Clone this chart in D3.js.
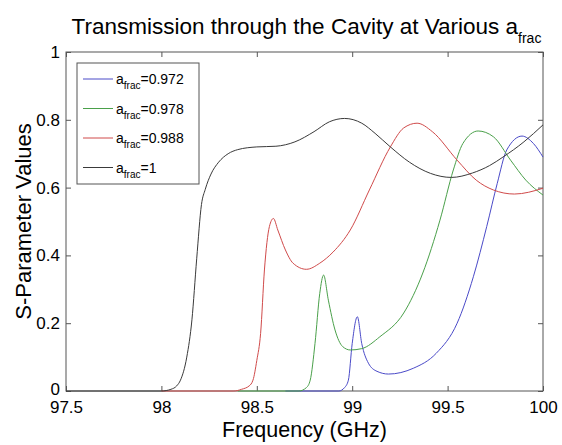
<!DOCTYPE html>
<html>
<head>
<meta charset="utf-8">
<script src="https://cdn.jsdelivr.net/npm/d3@7"></script>
<style>
  body { margin: 0; background: #fff; }
  text { font-family: "Liberation Sans", Arial, sans-serif; fill: #000; }
</style>
</head>
<body>
<div id="chart"></div>
<script>
// series values (frequency in GHz, S-parameter)
const freq972 = [98.65, 98.93, 98.96, 98.98, 99.0, 99.027, 99.05, 99.085, 99.13, 99.19, 99.32, 99.44, 99.55, 99.635, 99.705, 99.76, 99.81, 99.89, 99.95, 100];
const s972 =    [0, 0, 0.01, 0.032, 0.14, 0.219, 0.14, 0.082, 0.058, 0.05, 0.067, 0.111, 0.2, 0.337, 0.485, 0.612, 0.711, 0.752, 0.73, 0.69];

const freq978 = [98.4, 98.72, 98.76, 98.78, 98.805, 98.83, 98.85, 98.875, 98.91, 98.95, 98.99, 99.05, 99.145, 99.27, 99.37, 99.46, 99.53, 99.58, 99.66, 99.74, 99.83, 99.91, 100];
const s978 =    [0, 0, 0.01, 0.032, 0.14, 0.288, 0.342, 0.268, 0.18, 0.131, 0.121, 0.125, 0.16, 0.23, 0.348, 0.504, 0.652, 0.73, 0.767, 0.75, 0.681, 0.622, 0.578];

const freq988 = [98.0, 98.38, 98.42, 98.46, 98.48, 98.5, 98.52, 98.54, 98.566, 98.587, 98.61, 98.65, 98.69, 98.76, 98.83, 98.9, 98.99, 99.09, 99.2, 99.27, 99.34, 99.42, 99.55, 99.65, 99.74, 99.85, 100];
const s988 =    [0, 0, 0.005, 0.015, 0.032, 0.09, 0.17, 0.357, 0.485, 0.509, 0.475, 0.416, 0.377, 0.359, 0.377, 0.41, 0.475, 0.593, 0.72, 0.776, 0.79, 0.765, 0.681, 0.622, 0.593, 0.581, 0.598];

const freq1 = [97.5, 98.0, 98.05, 98.08, 98.1, 98.133, 98.16, 98.185, 98.21, 98.23, 98.26, 98.3, 98.35, 98.4, 98.5, 98.6, 98.7, 98.8, 98.88, 98.96, 99.05, 99.12, 99.2, 99.3, 99.41, 99.52, 99.63, 99.72, 99.79, 99.9, 100];
const s1 =    [0, 0, 0.005, 0.015, 0.032, 0.1, 0.21, 0.39, 0.55, 0.595, 0.64, 0.675, 0.7, 0.712, 0.72, 0.722, 0.735, 0.765, 0.794, 0.804, 0.79, 0.76, 0.72, 0.675, 0.642, 0.63, 0.643, 0.665, 0.69, 0.735, 0.785];

const seriesNames = ["0.972", "0.978", "0.988", "1"];
const seriesColors = ["#4a4ac8", "#4aa04a", "#d04a4a", "#3a3a3a"];
const xTicks = [97.5, 98, 98.5, 99, 99.5, 100];
const yTicks = [0, 0.2, 0.4, 0.6, 0.8, 1];

const series = [
  { name: seriesNames[0], color: seriesColors[0], pts: freq972.map((f, i) => [f, s972[i]]) },
  { name: seriesNames[1], color: seriesColors[1], pts: freq978.map((f, i) => [f, s978[i]]) },
  { name: seriesNames[2], color: seriesColors[2], pts: freq988.map((f, i) => [f, s988[i]]) },
  { name: seriesNames[3], color: seriesColors[3], pts: freq1.map((f, i) => [f, s1[i]]) }
];

const W = 562, H = 445;
const margin = { top: 52, right: 19, bottom: 54, left: 66 },
    width = W - margin.left - margin.right,
    height = H - margin.top - margin.bottom;

const svg = d3.select("#chart").append("svg")
    .attr("width", W)
    .attr("height", H);

svg.append("rect").attr("width", W).attr("height", H).attr("fill", "#fff");

const g = svg.append("g").attr("transform", `translate(${margin.left},${margin.top})`);

const x = d3.scaleLinear().domain([97.5, 100]).range([0, width]);
const y = d3.scaleLinear().domain([0, 1]).range([height, 0]);

const axisColor = "#555";
const tickLen = 5;

// box + inward ticks (matlab style)
g.append("rect")
    .attr("width", width).attr("height", height)
    .attr("fill", "none").attr("stroke", axisColor).attr("stroke-width", 1);

const axBottom = g.append("g").attr("transform", `translate(0,${height})`)
    .call(d3.axisBottom(x).tickValues(xTicks).tickSizeInner(-tickLen).tickSizeOuter(0).tickPadding(10).tickFormat(d3.format("")));
const axTop = g.append("g")
    .call(d3.axisTop(x).tickValues(xTicks).tickSizeInner(-tickLen).tickSizeOuter(0).tickFormat(""));
const axLeft = g.append("g")
    .call(d3.axisLeft(y).tickValues(yTicks).tickSizeInner(-tickLen).tickSizeOuter(0).tickPadding(6).tickFormat(d3.format("")));
const axRight = g.append("g").attr("transform", `translate(${width},0)`)
    .call(d3.axisRight(y).tickValues(yTicks).tickSizeInner(-tickLen).tickSizeOuter(0).tickFormat(""));

[axBottom, axTop, axLeft, axRight].forEach(a => {
  a.select(".domain").remove();
  a.selectAll("line").attr("stroke", axisColor);
  a.selectAll("text").style("font-size", "17px").style("font-family", "Liberation Sans, Arial, sans-serif").attr("fill", "#000");
});
// lift the "0" a little so it clears the 97.5 label below it
axLeft.selectAll(".tick text").filter(d => d === 0).attr("dy", "0.2em");

// lines (blue drawn first, black last)
const line = d3.line().x(d => x(d[0])).y(d => y(d[1])).curve(d3.curveMonotoneX);

g.selectAll(".series")
    .data(series)
    .enter().append("path")
    .attr("class", "series")
    .attr("d", d => line(d.pts))
    .attr("fill", "none")
    .attr("stroke", d => d.color)
    .attr("stroke-width", 1);

// title
const title = svg.append("text")
    .attr("x", margin.left + width / 2 + 2)
    .attr("y", 34)
    .attr("text-anchor", "middle")
    .style("font-size", "22.5px");
title.append("tspan").text("Transmission through the Cavity at Various a");
title.append("tspan").attr("dy", 9).style("font-size", "14px").text("frac");

// axis labels
svg.append("text")
    .attr("x", margin.left + width / 2)
    .attr("y", 437)
    .attr("text-anchor", "middle")
    .style("font-size", "21.5px")
    .text("Frequency (GHz)");

svg.append("text")
    .attr("transform", `translate(31,${margin.top + height / 2}) rotate(-90)`)
    .attr("text-anchor", "middle")
    .style("font-size", "22px")
    .text("S-Parameter Values");

// legend
const legend = svg.append("g").attr("transform", "translate(77,63)");
legend.append("rect")
    .attr("width", 122).attr("height", 121)
    .attr("fill", "#fff").attr("stroke", axisColor).attr("stroke-width", 1);

const items = legend.selectAll(".item")
    .data(series)
    .enter().append("g")
    .attr("class", "item")
    .attr("transform", (d, i) => `translate(0,${16 + i * 29.5})`);

items.append("line")
    .attr("x1", 6).attr("x2", 36)
    .attr("stroke", d => d.color).attr("stroke-width", 1);

const lt = items.append("text")
    .attr("x", 39)
    .attr("y", 5)
    .style("font-size", "14px");
lt.append("tspan").text("a");
lt.append("tspan").attr("dy", 5).style("font-size", "10px").text("frac");
lt.append("tspan").attr("dy", -5).text(d => "=" + d.name);
</script>
</body>
</html>
